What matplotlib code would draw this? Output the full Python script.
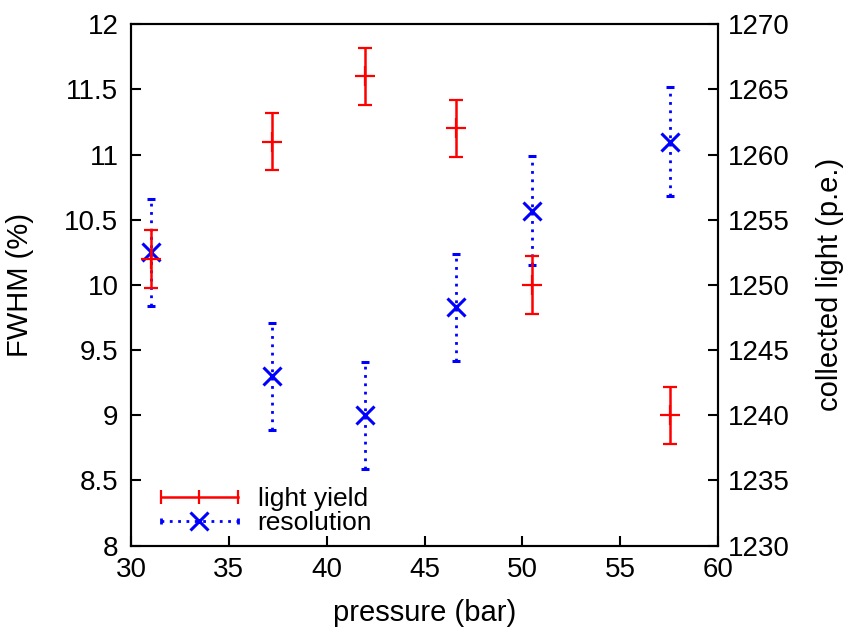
import matplotlib
matplotlib.use('Agg')
import matplotlib.pyplot as plt
from matplotlib.lines import Line2D
from matplotlib.legend_handler import HandlerLine2D, HandlerTuple

plt.rcParams['font.family'] = ['Liberation Sans', 'DejaVu Sans']

# pressure (bar)
pressure = [31.0, 37.2, 41.95, 46.6, 50.5, 57.55]
# light yield, collected light (p.e.), right axis
light = [1252.0, 1261.0, 1266.0, 1262.0, 1250.0, 1240.0]
light_err = [2.2, 2.2, 2.2, 2.2, 2.2, 2.2]
# resolution, FWHM (%), left axis
fwhm = [10.25, 9.3, 9.0, 9.83, 10.57, 11.1]
fwhm_err = [0.41, 0.41, 0.41, 0.41, 0.42, 0.42]

fig = plt.figure(figsize=(8.45, 6.36), dpi=100)
ax = fig.add_axes([0.155, 0.142, 0.695, 0.820])
ax2 = ax.twinx()

eb = ax.errorbar(pressure, fwhm, yerr=fwhm_err, fmt='x', color='blue', ms=13, mew=2.2,
                 elinewidth=2, capsize=3, capthick=2, zorder=3)
eb[2][0].set_linestyle((0, (1, 2)))

ax2.errorbar(pressure, light, yerr=light_err, fmt='+', color='red', ms=15, mew=1.6,
             elinewidth=1.8, capsize=5, capthick=1.6, zorder=3)

ax.set_xlim(30, 60)
ax.set_ylim(8, 12)
ax2.set_ylim(1230, 1270)
ax.set_xticks([30, 35, 40, 45, 50, 55, 60])
ax.set_yticks([8, 8.5, 9, 9.5, 10, 10.5, 11, 11.5, 12])
ax.set_yticklabels(['8', '8.5', '9', '9.5', '10', '10.5', '11', '11.5', '12'])
ax2.set_yticks([1230, 1235, 1240, 1245, 1250, 1255, 1260, 1265, 1270])

for a in (ax, ax2):
    a.tick_params(direction='in', length=7, width=1.5, labelsize=20, pad=9)
    for s in a.spines.values():
        s.set_linewidth(1.5)
ax.tick_params(axis='x', top=False, pad=8)
ax2.tick_params(axis='y', pad=7)

ax.set_xlabel('pressure (bar)', fontsize=21, labelpad=12)
ax.set_ylabel('FWHM (%)', fontsize=21, labelpad=22)
ax2.set_ylabel('collected light (p.e.)', fontsize=21, labelpad=19)

# gnuplot-style legend keys
red_line = Line2D([], [], color='red', lw=1.8, marker='|', ms=10, mew=1.6)
red_mid = Line2D([], [], color='red', ls='none', marker='|', ms=10, mew=1.6)
blue_line = Line2D([], [], color='blue', lw=2, ls=(0, (1, 2)), marker='|', ms=5, mew=2)
blue_mid = Line2D([], [], color='blue', ls='none', marker='x', ms=13, mew=2.2)
hm = {red_line: HandlerLine2D(numpoints=2), red_mid: HandlerLine2D(numpoints=1),
      blue_line: HandlerLine2D(numpoints=2), blue_mid: HandlerLine2D(numpoints=1)}
ax.legend([(red_line, red_mid), (blue_line, blue_mid)], ['light yield', 'resolution'],
          handler_map={**hm, tuple: HandlerTuple(ndivide=1)},
          loc='lower left', bbox_to_anchor=(0.02, 0.0), borderaxespad=0, frameon=False,
          fontsize=19, handlelength=3.5, labelspacing=0.0, handletextpad=0.45)

fig.savefig('out.png', dpi=100)
